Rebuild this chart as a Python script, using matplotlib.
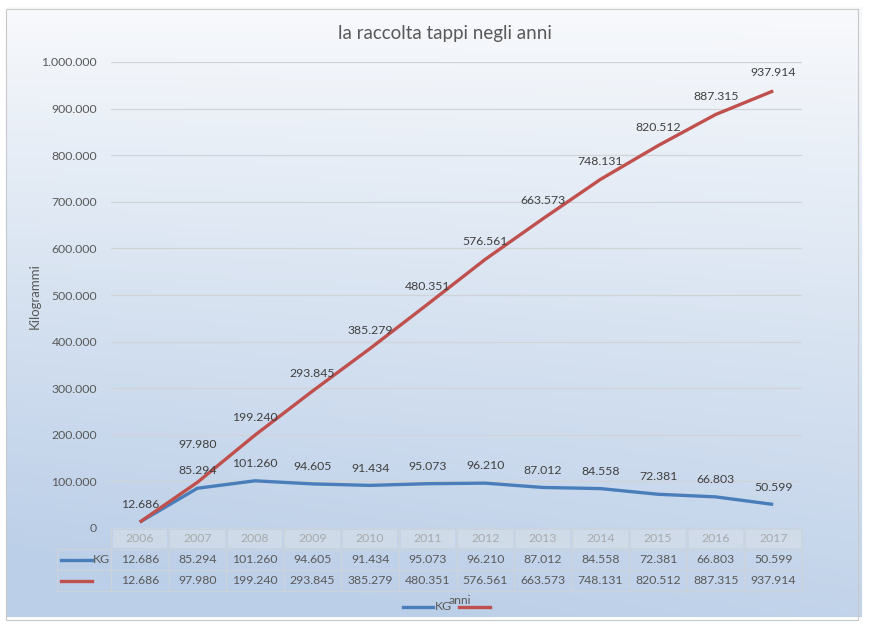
import matplotlib
matplotlib.use("Agg")
import matplotlib.pyplot as plt
import numpy as np
from matplotlib.lines import Line2D
from matplotlib.patches import Rectangle
from matplotlib.transforms import blended_transform_factory

plt.rcParams['font.family'] = ['Lato', 'DejaVu Sans']

years = ["2006", "2007", "2008", "2009", "2010", "2011",
         "2012", "2013", "2014", "2015", "2016", "2017"]
kg = [12686, 85294, 101260, 94605, 91434, 95073,
      96210, 87012, 84558, 72381, 66803, 50599]
cumulative = [12686, 97980, 199240, 293845, 385279, 480351,
              576561, 663573, 748131, 820512, 887315, 937914]
series_names = ["KG", ""]
title = "la raccolta tappi negli anni"
y_title = "Kilogrammi"
x_title = "anni"

W, H = 869, 624
fig = plt.figure(figsize=(W / 100, H / 100), dpi=100)

def fx(px):
    return px / W

def fy(py):
    return 1 - py / H

def fmt(v):
    return f"{v:,}".replace(",", ".")

# background gradient
bg = fig.add_axes([0, 0, 1, 1], zorder=-10)
bg.set_axis_off()
yy, xx = np.mgrid[0:1:200j, 0:1:200j]
t = np.clip(0.9 * yy + 0.2 * (1 - xx) * yy + 0.15 * yy * (1 - yy), 0, 1)
top = np.array([0.975, 0.980, 0.988])
bot = np.array([0.735, 0.812, 0.910])
img = top[None, None, :] * (1 - t[..., None]) + bot[None, None, :] * t[..., None]
bg.imshow(img, extent=[0, 1, 0, 1], aspect='auto', origin='upper')
bg.set_xlim(0, 1)
bg.set_ylim(0, 1)
fig.patches.append(Rectangle((0, 0), 1, 1, transform=fig.transFigure,
                             facecolor='none', edgecolor='white', lw=10, zorder=-5))
fig.patches.append(Rectangle((fx(6), fy(620)), fx(858) - fx(6), fy(9) - fy(620),
                             transform=fig.transFigure, facecolor='none',
                             edgecolor='#c8c8c8', lw=0.8, zorder=-4))

ax = fig.add_axes([fx(111), fy(528), fx(802) - fx(111), fy(62) - fy(528)])
ax.set_facecolor('none')
x = np.arange(len(years))
ax.set_xlim(-0.5, len(years) - 0.5)
ax.set_ylim(0, 1000000)
ax.set_yticks(np.arange(0, 1000001, 100000))
ax.set_yticklabels([fmt(v) for v in range(0, 1000001, 100000)],
                   fontsize=8.8, color='#595959')
ax.tick_params(axis='y', length=0, pad=10)
ax.set_xticks([])
for s in ax.spines.values():
    s.set_visible(False)
ax.grid(axis='y', color='#d0d4d8', lw=0.9)
ax.set_axisbelow(True)

blue = '#4a7ebb'
red = '#c0504d'
ax.plot(x, kg, color=blue, lw=2.4, solid_capstyle='butt', zorder=3)
ax.plot(x, cumulative, color=red, lw=2.4, solid_capstyle='butt', zorder=4)

for i, v in enumerate(kg):
    if i == 0:
        continue
    ax.annotate(fmt(v), (x[i], v), xytext=(0, 12.5),
                textcoords='offset points', ha='center', va='center',
                fontsize=8.8, color='#404040', zorder=5)
for i, v in enumerate(cumulative):
    dy = 27 if i == 1 else 13
    ax.annotate(fmt(v), (x[i], v), xytext=(0, dy),
                textcoords='offset points', ha='center', va='center',
                fontsize=8.8, color='#404040', zorder=5)

fig.text(fx(445), fy(33), title, ha='center', va='center', fontsize=13.5, color='#595959')
fig.text(fx(35), fy(296), y_title, ha='center', va='center', rotation=90,
         fontsize=9.5, color='#595959')

# data table
rows_y = [528, 549, 570, 591]
tcol = '#cdd3da'
tr = blended_transform_factory(ax.transData, fig.transFigure)
for i in range(len(years)):
    fig.patches.append(Rectangle((fx(111 + i * 57.6 + 1.5), fy(rows_y[1] - 1.5)),
                                 fx(54.5), fy(rows_y[0] + 1.5) - fy(rows_y[1] - 1.5),
                                 transform=fig.transFigure, facecolor='#d9e0e8',
                                 alpha=0.6, edgecolor='none', zorder=1))
for py in rows_y:
    x0 = 111 if py == rows_y[0] else 57
    fig.add_artist(Line2D([fx(x0), fx(802)], [fy(py), fy(py)], color=tcol, lw=0.9))
for i in range(len(years) + 1):
    px = 111 + i * (691 / 12)
    fig.add_artist(Line2D([fx(px), fx(px)], [fy(528), fy(591)], color=tcol, lw=0.9))
fig.add_artist(Line2D([fx(57), fx(57)], [fy(549), fy(591)], color=tcol, lw=0.9))

for i, yr in enumerate(years):
    ax.text(x[i], fy(538.5), yr, transform=tr, ha='center', va='center',
            fontsize=8.8, color='#595959')
    ax.text(x[i], fy(559.5), fmt(kg[i]), transform=tr,
            ha='center', va='center', fontsize=8.8, color='#595959')
    ax.text(x[i], fy(580.5), fmt(cumulative[i]), transform=tr,
            ha='center', va='center', fontsize=8.8, color='#595959')

fig.add_artist(Line2D([fx(61), fx(92)], [fy(560), fy(560)], color=blue, lw=2.4))
fig.text(fx(93), fy(559.5), series_names[0], ha='left', va='center', fontsize=8.8, color='#595959')
fig.add_artist(Line2D([fx(61), fx(92)], [fy(581), fy(581)], color=red, lw=2.4))

# legend + x title (overlapping, as in reference)
fig.add_artist(Line2D([fx(403), fx(433)], [fy(607), fy(607)], color=blue, lw=2.4))
fig.text(fx(435), fy(606), series_names[0], ha='left', va='center', fontsize=8.8, color='#595959')
fig.add_artist(Line2D([fx(459), fx(490)], [fy(607), fy(607)], color=red, lw=2.4))
fig.text(fx(460), fy(600), x_title, ha='center', va='center', fontsize=8.8, color='#595959')

fig.savefig("out.png", dpi=100)
